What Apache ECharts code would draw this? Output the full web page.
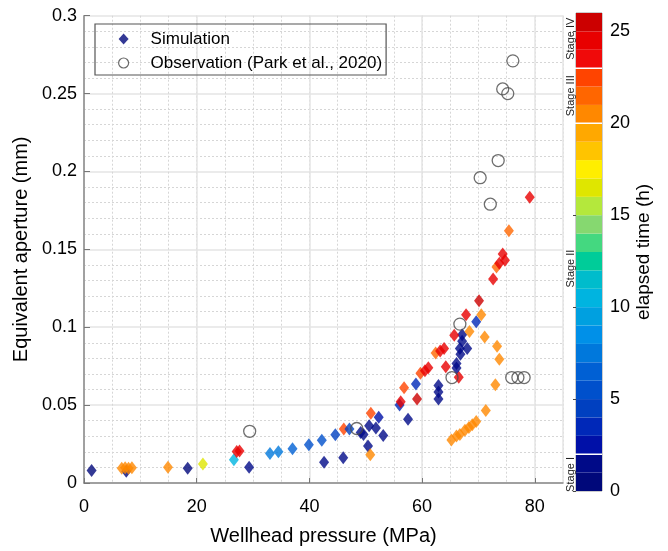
<!DOCTYPE html>
<html>
<head>
<meta charset="utf-8">
<script src="https://cdn.jsdelivr.net/npm/echarts@6/dist/echarts.min.js"></script>
<style>
  html, body { margin: 0; padding: 0; background: #fff; }
  #main { width: 668px; height: 551px; }
</style>
</head>
<body>
<div id="main"></div>
<script>
var app = echarts.init(document.getElementById('main'));
var FONT = 'Liberation Sans, Arial, sans-serif';

// simulation: wellhead pressure (MPa), aperture (mm), elapsed time (h)
var simX = [1.35, 7.5, 6.7, 7.3, 7.9, 8.5, 14.9, 18.4, 21.1, 26.6, 27.1, 27.6, 29.3,
  33.0, 34.5, 37.0, 39.9, 42.2, 42.6, 44.6, 46.0, 46.1, 47.1, 49.1, 49.6, 50.6, 51.8,
  52.3, 53.1, 50.4, 50.8, 50.9, 56.0, 56.2, 56.8, 57.5, 59.1, 58.9, 59.7, 60.5, 61.1,
  62.4, 63.2, 63.9, 62.9, 62.9, 62.9, 64.2, 66.5, 66.1, 66.1, 66.8, 66.7, 68.0, 67.1,
  67.1, 65.7, 68.4, 69.6, 67.8, 70.5, 70.1, 71.1, 73.3, 73.7, 73.0, 71.3,
  65.2, 66.1, 66.7, 67.6, 68.3, 68.9, 69.6,
  72.6, 73.2, 73.7, 74.7, 74.3, 75.4, 79.1];
var simY = [0.0080, 0.0076, 0.0095, 0.0098, 0.0095, 0.0098, 0.0101, 0.0095, 0.0122, 0.0149, 0.0202, 0.0205, 0.0101,
  0.0190, 0.0200, 0.0220, 0.0246, 0.0275, 0.0134, 0.0309, 0.0162, 0.0347, 0.0347, 0.0325, 0.0311, 0.0368, 0.0353,
  0.0422, 0.0305, 0.0238, 0.0181, 0.0448, 0.0500, 0.0521, 0.0612, 0.0410, 0.0540, 0.0635, 0.0704, 0.0720, 0.0740,
  0.0835, 0.0847, 0.0864, 0.0626, 0.0585, 0.0540, 0.0746, 0.0679, 0.0738, 0.0767, 0.0826, 0.0864, 0.0864, 0.0910,
  0.0952, 0.0948, 0.0973, 0.1036, 0.108, 0.108, 0.117, 0.0938, 0.0878, 0.0794, 0.0630, 0.0465,
  0.0276, 0.0301, 0.0311, 0.0339, 0.0357, 0.0374, 0.0395,
  0.131, 0.1387, 0.141, 0.143, 0.147, 0.162, 0.1835];
var simT = [0.5, 0.5, 20.5, 20.5, 20.5, 20.5, 20.5, 0.5, 16.5, 10.5, 24.5, 24, 1.5,
  7.5, 7, 6.5, 5.5, 5, 1.5, 4.5, 1.5, 22.5, 4, 1.5, 1.5, 1.5, 1.5,
  2.5, 1.5, 1.5, 20.5, 22.5, 3.5, 24, 22, 1.5, 25, 3.5, 22.5, 24, 24.5,
  21.5, 24, 24, 1.5, 1.5, 1.5, 24.5, 24, 1.5, 1.5, 1.5, 1.5, 1.5, 1.5,
  1.5, 24, 20.5, 3, 24.5, 20.5, 25.5, 20.5, 20.5, 20.5, 20.5, 20.5,
  20.5, 20.5, 20.5, 20.5, 20.5, 20.5, 20.5,
  24.5, 21.5, 24, 24, 24, 21.5, 24];

// observation (Park et al., 2020)
var obsX = [29.4, 48.4, 65.3, 66.7, 70.3, 72.1, 73.5, 74.3, 75.2, 76.1, 75.9, 77.0, 78.1];
var obsY = [0.0332, 0.0350, 0.0677, 0.102, 0.196, 0.179, 0.207, 0.253, 0.250, 0.271, 0.0677, 0.0677, 0.0677];

// colorbar: one colour per hour, 0..26 h
var cbColors = ['#00087a', '#000a88', '#0010a8', '#0028b8', '#0040c0', '#0050cc', '#0060d4',
  '#0078dc', '#0090e8', '#00a0e0', '#00b4e0', '#00bccc', '#00cc99', '#44d880', '#86d870',
  '#b4e83c', '#dfe600', '#ffee00', '#ffc400', '#ffa800', '#ff8800', '#ff6600', '#ff4400',
  '#f00a0a', '#e80000', '#cc0000'];
var stageBounds = [2, 20, 23];
var stageNames = ['Stage I', 'Stage II', 'Stage III', 'Stage IV'];
var stageCenters = [0.9, 12.1, 21.5, 24.6];

var simData = simX.map(function (x, i) { return [x, simY[i], simT[i]]; });
var obsData = obsX.map(function (x, i) { return [x, obsY[i]]; });
var cbData = cbColors.map(function (c, i) { return [i]; });

var option = {
  animation: false,
  textStyle: { fontFamily: FONT },
  grid: [
    { left: 84, right: 105, top: 15.7, bottom: 60 },
    { left: 576, width: 26, top: 13, bottom: 60, show: true, borderColor: '#999', borderWidth: 1, backgroundColor: 'transparent' }
  ],
  legend: {
    left: 95, top: 24, orient: 'vertical',
    padding: [5, 4, 2, 23],
    itemWidth: 10, itemHeight: 11, itemGap: 4,
    borderColor: '#555', borderWidth: 1.2,
    textStyle: { fontSize: 17, color: '#000', fontFamily: FONT, lineHeight: 20, padding: [0, 0, 0, 17] },
    data: [
      { name: 'Simulation', icon: 'diamond', itemStyle: { color: '#00087a' } },
      { name: 'Observation (Park et al., 2020)', icon: 'circle', itemStyle: { color: '#fff', borderColor: '#444', borderWidth: 1.2 } }
    ]
  },
  visualMap: {
    type: 'piecewise', show: false, seriesIndex: 0, dimension: 2,
    pieces: cbColors.map(function (c, i) { return { gte: i, lt: i + 1, color: c }; })
  },
  xAxis: [
    { // minor dotted grid
      gridIndex: 0, type: 'value', min: 0, max: 85, interval: 5, position: 'bottom',
      axisLine: { show: false }, axisTick: { show: false }, axisLabel: { show: false },
      splitLine: { show: true, lineStyle: { color: '#d6d6d6', type: [2, 2], width: 1 } }
    },
    {
      gridIndex: 0, type: 'value', min: 0, max: 85, interval: 20, position: 'bottom',
      name: 'Wellhead pressure (MPa)', nameLocation: 'middle', nameGap: 43,
      nameTextStyle: { fontSize: 20, color: '#000', fontFamily: FONT },
      axisLine: { show: true, lineStyle: { color: '#888', width: 1.5 } },
      axisTick: { show: true, inside: true, length: 5, lineStyle: { color: '#777' } },
      axisLabel: { fontSize: 18, color: '#000', margin: 15, showMaxLabel: false },
      splitLine: { show: true, lineStyle: { color: '#e4e4e4', width: 1.5 } }
    },
    { gridIndex: 1, type: 'value', min: 0, max: 1, show: false }
  ],
  yAxis: [
    {
      gridIndex: 0, type: 'value', min: 0, max: 0.3, interval: 0.05,
      name: 'Equivalent aperture (mm)', nameLocation: 'middle', nameGap: 45,
      nameTextStyle: { fontSize: 20, color: '#000', fontFamily: FONT },
      axisLine: { show: true, lineStyle: { color: '#888', width: 1.5 } },
      axisTick: { show: true, inside: true, length: 6, lineStyle: { color: '#777' } },
      axisLabel: { fontSize: 18, color: '#000', margin: 7 },
      splitLine: { show: true, lineStyle: { color: '#e4e4e4', width: 1.5 } },
      minorTick: { show: false, splitNumber: 5 },
      minorSplitLine: { show: true, lineStyle: { color: '#d6d6d6', type: [2, 2], width: 1 } }
    },
    {
      gridIndex: 1, type: 'value', min: 0, max: 26, interval: 5, position: 'right',
      name: 'elapsed time (h)', nameLocation: 'middle', nameGap: 30,
      nameTextStyle: { fontSize: 19, color: '#000', fontFamily: FONT },
      axisLine: { show: false },
      axisTick: { show: true, inside: true, length: 3, lineStyle: { color: '#444' } },
      axisLabel: { fontSize: 18, color: '#000', margin: 8, showMaxLabel: false },
      splitLine: { show: false }
    },
    {
      gridIndex: 1, type: 'value', min: 0, max: 26, position: 'left',
      axisLine: { show: false }, axisTick: { show: false }, splitLine: { show: false },
      axisLabel: {
        customValues: stageCenters, rotate: 90, fontSize: 11, color: '#222', margin: 0,
        formatter: function (v) { return stageNames[stageCenters.indexOf(v)]; }
      }
    }
  ],
  series: [
    {
      name: 'Simulation', type: 'scatter', xAxisIndex: 1, yAxisIndex: 0,
      symbol: 'diamond', symbolSize: [10, 13],
      itemStyle: { color: '#00087a' },
      data: simData, z: 3
    },
    {
      name: 'Observation (Park et al., 2020)', type: 'scatter', xAxisIndex: 1, yAxisIndex: 0,
      symbol: 'circle', symbolSize: 12,
      itemStyle: { color: 'rgba(255,255,255,0)', borderColor: '#4a4a4a', borderWidth: 1.3 },
      data: obsData, z: 4
    },
    {
      type: 'custom', xAxisIndex: 2, yAxisIndex: 1, silent: true,
      data: cbData,
      renderItem: function (params, api) {
        var lv = api.value(0);
        var p0 = api.coord([0, lv + 1]);
        var p1 = api.coord([1, lv]);
        return { type: 'rect', shape: { x: p0[0], y: p0[1], width: p1[0] - p0[0], height: p1[1] - p0[1] },
          style: { fill: cbColors[lv] } };
      }
    },
    {
      type: 'custom', xAxisIndex: 2, yAxisIndex: 1, silent: true, z: 5,
      data: stageBounds.map(function (b) { return [b]; }),
      renderItem: function (params, api) {
        var p0 = api.coord([0, api.value(0)]);
        var p1 = api.coord([1, api.value(0)]);
        return { type: 'line', shape: { x1: p0[0] - 10, y1: p0[1], x2: p1[0], y2: p1[1] },
          style: { stroke: '#fff', lineWidth: 1.5 } };
      }
    }
  ]
};

app.setOption(option);
</script>
</body>
</html>
